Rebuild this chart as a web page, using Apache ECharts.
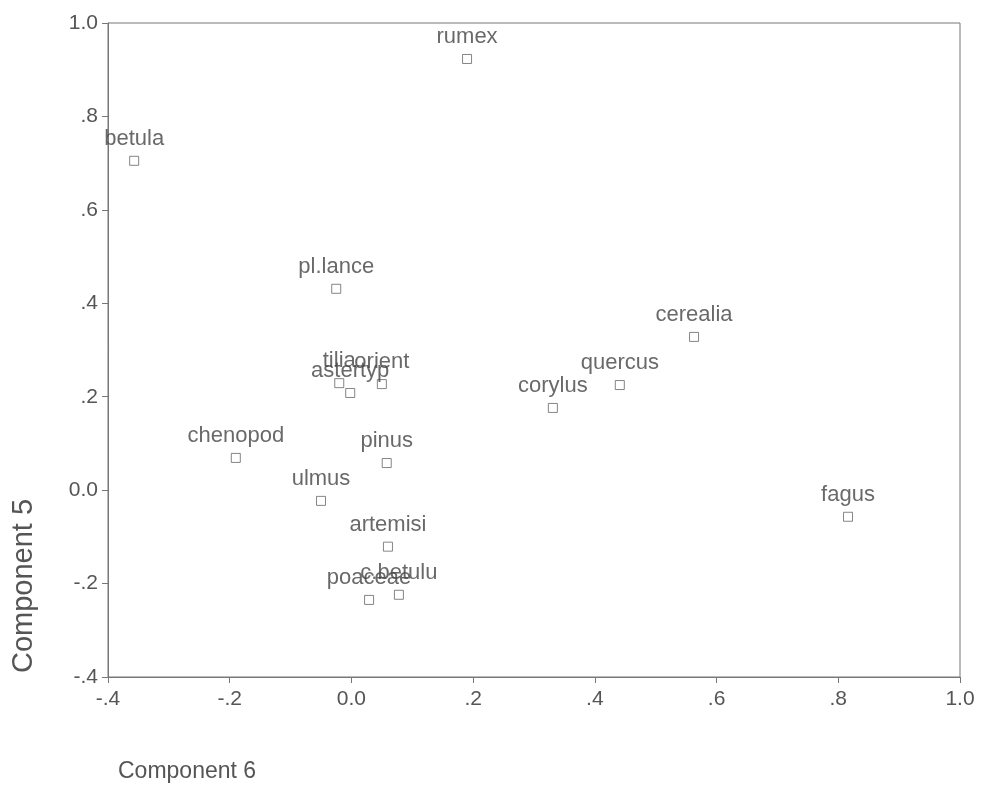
<!DOCTYPE html>
<html><head><meta charset="utf-8">
<script src="https://cdn.jsdelivr.net/npm/echarts@6/dist/echarts.min.js"></script>
<style>html,body{margin:0;padding:0;background:#fff}#c{width:988px;height:796px}</style>
</head><body><div id="c"></div>
<script>
const names = ['rumex','betula','pl.lance','cerealia','quercus','corylus','tilia','astertyp','orient','chenopod','pinus','ulmus','fagus','artemisi','poaceae','c.betulu'];
const comp6 = [0.190,-0.357,-0.025,0.563,0.441,0.331,-0.020,-0.002,0.050,-0.190,0.058,-0.050,0.816,0.060,0.029,0.078];
const comp5 = [0.923,0.705,0.431,0.328,0.225,0.176,0.229,0.208,0.227,0.069,0.058,-0.023,-0.057,-0.121,-0.235,-0.224];
const xTicks = {min:-0.4, max:1.0, step:0.2};
const yTicks = {min:-0.4, max:1.0, step:0.2};
const xTitle = 'Component 6';
const yTitle = 'Component 5';

function fmt(v){
  v = Math.round(v*10)/10;
  if (v === 0) return '0.0';
  if (v === 1) return '1.0';
  return v.toFixed(1).replace(/^(-?)0\./,'$1.');
}
const FONT = 'Liberation Sans, Arial, sans-serif';
const GREY = '#555';
const chart = echarts.init(document.getElementById('c'), null, {renderer:'canvas'});
chart.setOption({
  backgroundColor:'#fff',
  animation:false,
  grid:{left:108, top:23, width:852, height:654, show:true, borderColor:'#777', borderWidth:1, backgroundColor:'transparent'},
  xAxis:{type:'value', min:xTicks.min, max:xTicks.max, interval:xTicks.step,
    axisLine:{show:true, onZero:false, lineStyle:{color:'#777'}},
    axisTick:{show:true, length:6, lineStyle:{color:'#777'}},
    splitLine:{show:false},
    axisLabel:{formatter:fmt, color:GREY, fontSize:21, fontFamily:FONT, margin:12}},
  yAxis:{type:'value', min:yTicks.min, max:yTicks.max, interval:yTicks.step,
    axisLine:{show:true, onZero:false, lineStyle:{color:'#777'}},
    axisTick:{show:true, length:6, lineStyle:{color:'#777'}},
    splitLine:{show:false},
    axisLabel:{formatter:fmt, color:GREY, fontSize:21, fontFamily:FONT, margin:10}},
  series:[{
    type:'scatter',
    symbol:'rect', symbolSize:9,
    itemStyle:{color:'#fff', borderColor:'#666', borderWidth:1},
    label:{show:true, position:'top', distance:6, formatter:p=>p.data[2], color:'#444', fontSize:22, fontFamily:FONT},
    labelLayout:{hideOverlap:false},
    data: names.map((n,i)=>[comp6[i], comp5[i], n])
  }],
  graphic:[
    {type:'text', left:118, top:760, style:{text:xTitle, fill:GREY, font:'23px '+FONT}},
    {type:'text', x:24, y:586, rotation:Math.PI/2, style:{text:yTitle, fill:GREY, font:'29px '+FONT, align:'center', verticalAlign:'middle'}}
  ]
});
</script></body></html>
